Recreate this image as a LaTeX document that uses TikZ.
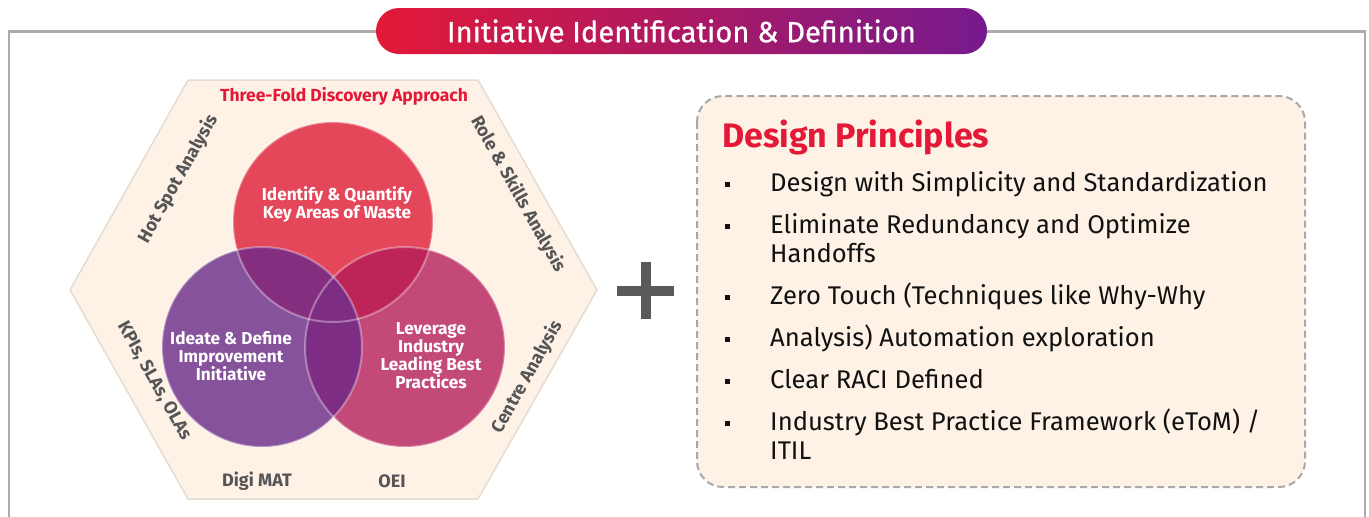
\documentclass[tikz,border=0pt]{standalone}
\usepackage{fontspec}
\setmainfont{Fira Sans}
\newfontfamily\titlefont[FakeBold=0.7]{Fira Sans}
\definecolor{framegray}{HTML}{ABABAB}
\definecolor{tred}{HTML}{E31937}
\definecolor{tpurple}{HTML}{761A8E}
\definecolor{peach}{HTML}{FDF2E5}
\definecolor{hexedge}{HTML}{E4DCD3}
\definecolor{labelgray}{HTML}{555555}
\definecolor{ctop}{HTML}{E5475A}
\definecolor{cleft}{HTML}{87529C}
\definecolor{cright}{HTML}{C34A78}
\definecolor{ctl}{HTML}{852E80}
\definecolor{ctr}{HTML}{BD2457}
\definecolor{clr}{HTML}{7E2D85}
\definecolor{dashgray}{HTML}{A8A8A8}
\definecolor{plusgray}{HTML}{5A5A5A}
\definecolor{bodytext}{HTML}{111111}
\tikzset{
  pill/.style={rounded corners=23pt, left color=tred, right color=tpurple,
    minimum width=611pt, minimum height=46pt, text=white, inner sep=0pt,
    font=\titlefont\fontsize{29.2}{34}\selectfont},
  edgelabel/.style={text=labelgray, font=\bfseries\fontsize{18}{20}\selectfont, inner sep=0pt},
  circletext/.style={text=white, align=center, font=\bfseries\fontsize{17.2}{18}\selectfont, inner sep=0pt},
  ring/.style={draw=white, draw opacity=0.35, line width=2pt},
  item/.style={anchor=base west, text=bodytext, font=\fontsize{25.6}{29}\selectfont, inner sep=0pt},
  bullet/.style={fill=bodytext, minimum size=5pt, inner sep=0pt}
}
\begin{document}
\begin{tikzpicture}[x=1pt,y=-1pt]
\useasboundingbox (0,0) rectangle (1369,517);

% outer frame, open at the bottom
\draw[framegray, line width=2.5pt] (9,517) -- (9,31.5) -- (1365,31.5) -- (1365,517);

% section title
\node[pill] (title) at (681.5,31) {Initiative Identification \& Definition};

% hexagon background
\filldraw[fill=peach, draw=hexedge, line width=1.5pt]
  (188,80) -- (478,80) -- (597,290) -- (478,499) -- (188,499) -- (70,290) -- cycle;

% three circles
\coordinate (T) at (333,222);
\coordinate (L) at (262,347);
\coordinate (R) at (405,347);
\fill[ctop] (T) circle[radius=100pt];
\fill[cleft] (L) circle[radius=100pt];
\fill[cright] (R) circle[radius=100pt];
\begin{scope}
  \clip (T) circle[radius=100pt];
  \fill[ctl] (L) circle[radius=100pt];
  \fill[ctr] (R) circle[radius=100pt];
\end{scope}
\begin{scope}
  \clip (L) circle[radius=100pt];
  \fill[clr] (R) circle[radius=100pt];
\end{scope}
\draw[ring] (T) circle[radius=100pt];
\draw[ring] (L) circle[radius=100pt];
\draw[ring] (R) circle[radius=100pt];

\node[circletext] (ctxt1) at (337,204) {Identify \& Quantify\\Key Areas of Waste};
\node[circletext] (ctxt2) at (231,356) {Ideate \& Define\\Improvement\\Initiative};
\node[circletext] (ctxt3) at (431,356) {Leverage\\Industry\\Leading Best\\Practices};

% hexagon labels
\node[text=tred, font=\bfseries\fontsize{17.5}{20}\selectfont, inner sep=0pt] (approach) at (344,96) {Three-Fold Discovery Approach};
\node[edgelabel, rotate=60.8] (hotspot) at (178,179) {Hot Spot Analysis};
\node[edgelabel, rotate=-60.8] (role) at (518,194) {Role \& Skills Analysis};
\node[edgelabel, rotate=-60.8] (kpi) at (154,381) {KPIs, SLAs, OLAs};
\node[edgelabel, rotate=60.8] (centre) at (527,377) {Centre Analysis};
\node[edgelabel] (digimat) at (257,481) {Digi MAT};
\node[edgelabel] (oei) at (392,481) {OEI};

% plus sign
\fill[plusgray] (617,286) rectangle (674,296);
\fill[plusgray] (641,262) rectangle (651,319);

% design principles panel
\filldraw[fill=peach, draw=dashgray, line width=2pt, dash pattern=on 7pt off 4pt, rounded corners=26pt]
  (697,96) rectangle (1305,487);
\node[anchor=base west, text=tred, font=\bfseries\fontsize{34}{38}\selectfont, inner sep=0pt] (dp) at (722,147) {Design Principles};

\node[bullet] (b1) at (727,184) {};
\node[item] (i1) at (770,191) {Design with Simplicity and Standardization};
\node[bullet] (b2) at (727,226) {};
\node[item] (i2) at (770,233) {Eliminate Redundancy and Optimize};
\node[item] (i2b) at (770,262) {Handoffs};
\node[bullet] (b3) at (727,297) {};
\node[item] (i3) at (770,304) {Zero Touch (Techniques like Why-Why};
\node[bullet] (b4) at (727,339) {};
\node[item] (i4) at (770,346) {Analysis) Automation exploration};
\node[bullet] (b5) at (727,381) {};
\node[item] (i5) at (770,388) {Clear RACI Defined};
\node[bullet] (b6) at (727,423) {};
\node[item] (i6) at (770,430) {Industry Best Practice Framework (eToM) /};
\node[item] (i6b) at (770,459) {ITIL};
\end{tikzpicture}
\end{document}
